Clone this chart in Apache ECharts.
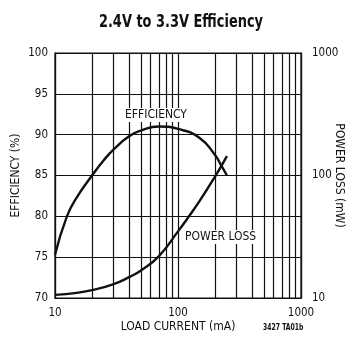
<!DOCTYPE html>
<html>
<head>
<meta charset="utf-8">
<script src="https://cdn.jsdelivr.net/npm/echarts@6/dist/echarts.min.js"></script>
<style>
  html, body { margin: 0; padding: 0; background: #fff; }
  #chart { width: 355px; height: 347px; }
</style>
</head>
<body>
<div id="chart"></div>
<script>
// Efficiency curve (left axis, %)
const effCurrent = [10, 12.5, 15, 20, 25, 30, 40, 50, 70, 100, 150, 200, 225, 250];
const efficiency = [75.3, 80.0, 82.3, 85.0, 86.9, 88.2, 89.8, 90.5, 91.0, 90.7, 89.6, 87.5, 86.2, 85.0];

// Power loss curve (right axis, mW, log)
const lossCurrent = [10, 15, 20, 30, 40, 50, 70, 100, 120, 150, 200, 250];
const powerLoss = [10.6, 11.0, 11.6, 13.0, 14.8, 16.8, 22.0, 35, 45, 62, 98, 144];

// Tick labels and the extra gridlines inside each decade of load current
const xTicks = [10, 100, 1000];
const effTicks = [70, 75, 80, 85, 90, 95, 100];
const lossTicks = [10, 100, 1000];
const minorGridTicks = [20, 30, 40, 50, 60, 70, 80, 90, 200, 300, 400, 500, 600, 700, 800, 900];

const FONT = '"DejaVu Sans Condensed", "Liberation Sans", Arial, sans-serif';
const INK = '#111';
const LABEL_SIZE = 11.5;

const chart = echarts.init(document.getElementById('chart'), null, { renderer: 'canvas' });

chart.setOption({
  animation: false,
  backgroundColor: '#fff',
  grid: {
    left: 55, right: 54, top: 53, bottom: 49,
    outerBoundsMode: 'none',
    containLabel: false,
    show: true, borderColor: INK, borderWidth: 1.2, backgroundColor: 'transparent'
  },
  xAxis: {
    type: 'log', logBase: 10, min: 10, max: 1000,
    name: 'LOAD CURRENT (mA)', nameLocation: 'middle', nameGap: 23, nameMoveOverlap: false,
    nameTextStyle: { fontFamily: FONT, fontSize: 12, color: INK },
    axisLine: { show: true, lineStyle: { color: INK, width: 1.2 } },
    axisTick: { show: false },
    axisLabel: {
      margin: 9, fontFamily: FONT, fontSize: LABEL_SIZE, color: INK,
      formatter: v => (xTicks.includes(Math.round(v)) ? String(Math.round(v)) : '')
    },
    splitLine: { show: true, lineStyle: { color: INK, width: 1.2 } }
  },
  yAxis: [
    {
      type: 'value', min: 70, max: 100, interval: 5,
      name: 'EFFICIENCY (%)', nameLocation: 'middle', nameGap: 33, nameMoveOverlap: false,
      nameTextStyle: { fontFamily: FONT, fontSize: 12, color: INK },
      axisLine: { show: true, lineStyle: { color: INK, width: 1.2 } },
      axisTick: { show: false },
      axisLabel: {
        margin: 7, fontFamily: FONT, fontSize: LABEL_SIZE, color: INK,
        formatter: v => (effTicks.includes(v) ? String(v) : '')
      },
      splitLine: { show: true, lineStyle: { color: INK, width: 1.2 } }
    },
    {
      type: 'log', logBase: 10, min: 10, max: 1000, position: 'right',
      name: 'POWER LOSS (mW)', nameLocation: 'middle', nameGap: 32, nameRotate: -90,
      nameMoveOverlap: false,
      nameTextStyle: { fontFamily: FONT, fontSize: 12, color: INK },
      axisLine: { show: true, lineStyle: { color: INK, width: 1.2 } },
      axisTick: { show: false },
      axisLabel: {
        margin: 11, fontFamily: FONT, fontSize: LABEL_SIZE, color: INK,
        formatter: v => (lossTicks.includes(Math.round(v)) ? String(Math.round(v)) : '')
      },
      splitLine: { show: false }
    }
  ],
  series: [
    {
      name: 'EFFICIENCY',
      type: 'line',
      xAxisIndex: 0, yAxisIndex: 0,
      data: effCurrent.map((c, i) => [c, efficiency[i]]),
      smooth: 0.5, showSymbol: false, symbol: 'none',
      lineStyle: { color: INK, width: 2.4 },
      z: 5,
      markLine: {
        silent: true, symbol: 'none', animation: false,
        label: { show: false },
        lineStyle: { color: INK, width: 1.2, type: 'solid' },
        data: minorGridTicks.map(v => ({ xAxis: v }))
      }
    },
    {
      name: 'POWER LOSS',
      type: 'line',
      xAxisIndex: 0, yAxisIndex: 1,
      data: lossCurrent.map((c, i) => [c, powerLoss[i]]),
      smooth: 0.5, showSymbol: false, symbol: 'none',
      lineStyle: { color: INK, width: 2.4 },
      z: 5
    }
  ],
  graphic: [
    {
      // chart title, drawn narrow like a condensed face
      type: 'text', x: 181, y: 22, scaleX: 0.8, z: 10,
      style: {
        text: '2.4V to 3.3V Efficiency', font: 'bold 18px ' + FONT, fill: INK,
        textAlign: 'center', textVerticalAlign: 'middle'
      }
    },
    {
      type: 'text', left: 123, top: 108, z: 10,
      style: {
        text: 'EFFICIENCY', font: '12px ' + FONT, fill: INK,
        backgroundColor: '#fff', padding: [1, 2, 1, 2]
      }
    },
    {
      type: 'text', left: 183, top: 230, z: 10,
      style: {
        text: 'POWER LOSS', font: '12px ' + FONT, fill: INK,
        backgroundColor: '#fff', padding: [1, 2, 1, 2]
      }
    },
    {
      type: 'text', x: 263, y: 328, scaleX: 0.85, z: 10,
      style: { text: '3427 TA01b', font: 'bold 8px ' + FONT, fill: INK, textVerticalAlign: 'middle' }
    }
  ]
});
</script>
</body>
</html>
